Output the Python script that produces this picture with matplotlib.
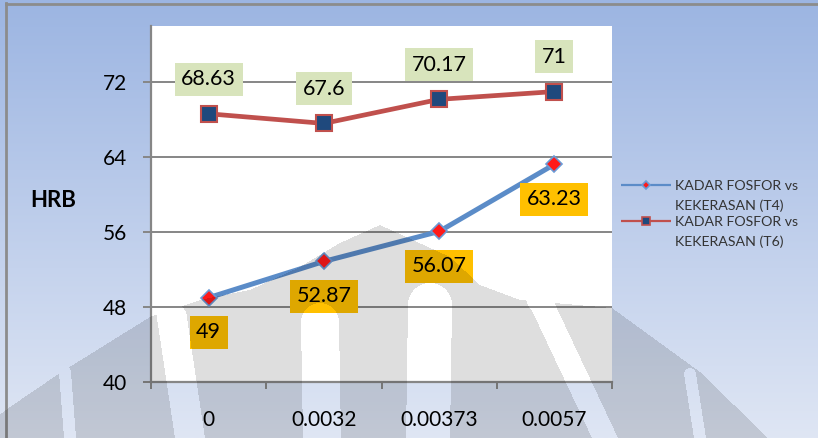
import numpy as np
import matplotlib
matplotlib.use("Agg")
import matplotlib.pyplot as plt

plt.rcParams['font.family'] = ['Lato', 'DejaVu Sans']

# ---- data ----
kadar_fosfor = ["0", "0.0032", "0.00373", "0.0057"]
hrb_t4 = [49, 52.87, 56.07, 63.23]
hrb_t6 = [68.63, 67.6, 70.17, 71]
label_t4 = "KADAR FOSFOR vs\nKEKERASAN (T4)"
label_t6 = "KADAR FOSFOR vs\nKEKERASAN (T6)"
y_ticks = [40, 48, 56, 64, 72]

W, H = 818, 438
fig = plt.figure(figsize=(W / 100, H / 100), dpi=100)

# ---- chart-area background: vertical blue gradient + frame ----
bg = fig.add_axes([0, 0, 1, 1], zorder=-5)
top = np.array([156, 181, 226]) / 255
bot = np.array([223, 230, 244]) / 255
t = np.linspace(0, 1, H)[:, None, None]
grad = top * (1 - t) + bot * t
grad = np.repeat(grad, 2, axis=1)
bg.imshow(grad, aspect='auto', extent=[0, W, H, 0], interpolation='bilinear')
bg.plot([6, 6], [3, H], color='#8c8c8c', lw=2)
bg.plot([6, W], [4, 4], color='#8c8c8c', lw=2)
bg.set_xlim(0, W)
bg.set_ylim(H, 0)
bg.axis('off')

# ---- plot area ----
ax = fig.add_axes([151 / W, (H - 382) / H, 461 / W, 356 / H])
ax.set_facecolor('white')
x = np.arange(len(kadar_fosfor))

line_t4 = '#5b8cc8'
line_t6 = '#c0504d'
mark_t4 = dict(marker='D', markerfacecolor='#ff1a1a', markeredgecolor='#6b9bd6')
mark_t6 = dict(marker='s', markerfacecolor='#1f497d', markeredgecolor='#c0504d')

ax.plot(x, hrb_t4, color=line_t4, lw=3.6, markersize=8.5, markeredgewidth=1.2,
        zorder=4, solid_capstyle='round', **mark_t4)
ax.plot(x, hrb_t6, color=line_t6, lw=3.4, markersize=11, markeredgewidth=1.5,
        zorder=4, **mark_t6)

for xi, v in zip(x, hrb_t6):
    ax.annotate(f"{v:g}", (xi, v), xytext=(0, 25), textcoords='offset points',
                ha='center', va='center', fontsize=15.5, color='black', zorder=5,
                bbox=dict(boxstyle='square,pad=0.3', fc='#d8e4bc', ec='none'))
for xi, v in zip(x, hrb_t4):
    ax.annotate(f"{v:g}", (xi, v), xytext=(0, -25), textcoords='offset points',
                ha='center', va='center', fontsize=15.5, color='black', zorder=5,
                bbox=dict(boxstyle='square,pad=0.3', fc='#ffc000', ec='none'))

ax.set_xlim(-0.5, len(kadar_fosfor) - 0.5)
ax.set_ylim(40, 78)
ax.set_yticks(y_ticks)
ax.yaxis.grid(True, color='#868686', lw=1.4)
ax.set_axisbelow(True)
ax.tick_params(axis='y', length=6, width=1.4, color='#868686', pad=11,
               labelsize=15, labelcolor='black')

# category ticks on boundaries, labels centred on categories
ax.set_xticks(np.arange(-0.5, len(kadar_fosfor)), labels=[])
ax.set_xticks(x, labels=kadar_fosfor, minor=True)
ax.tick_params(axis='x', which='major', length=5, width=1.4, color='#868686')
ax.tick_params(axis='x', which='minor', length=0, pad=20, labelsize=15,
               labelcolor='black')

for s in ['top', 'right']:
    ax.spines[s].set_visible(False)
for s in ['left', 'bottom']:
    ax.spines[s].set_color('#868686')
    ax.spines[s].set_linewidth(1.6)

ax.set_ylabel('HRB', rotation=0, fontsize=16, fontweight='bold',
              ha='center', va='center')
ax.yaxis.set_label_coords(-0.213, 0.51)

# ---- legend: key sample beside the first line of each two-line label ----
legend_rows = [(label_t4, line_t4, mark_t4, 184.5, 4.5),
               (label_t6, line_t6, mark_t6, 221, 6)]
for text, lc, mk, yk, ms in legend_rows:
    bg.plot([621, 671], [yk, yk], color=lc, lw=1.6, solid_capstyle='butt')
    bg.plot([646], [yk], linestyle='none', markersize=ms, markeredgewidth=1.2,
            **mk)
    for i, line in enumerate(text.split('\n')):
        bg.text(675, yk + 5 + i * 20.5, line, fontsize=10.2, color='#333333',
                ha='left', va='baseline')

# ---- faint watermark emblem over the lower part of the chart ----
ov = fig.add_axes([0, 0, 1, 1], zorder=10)
yy, xx = np.mgrid[0:H, 0:W] + 0.5
cx = 380
dl = np.clip(cx - xx, 0, None)
dr = np.clip(xx - cx, 0, None)
edge_l = np.interp(dl, [0, 40, 80, 130, 180, 230, 320, 370, 420],
                   [225, 243, 267, 290, 300, 317, 373, 407, 445])
edge_r = np.interp(dr, [0, 70, 100, 140, 232, 320, 388, 430],
                   [225, 257, 285, 300, 308, 372, 438, 470])
edge = np.where(xx < cx, edge_l, edge_r)
mask = (yy >= edge).astype(float)
gaps = [(65, 372, 70, 6), (172, 318, 190, 15), (320, 322, 322, 19),
        (430, 305, 428, 22), (540, 300, 605, 13), (690, 374, 700, 6)]
for xt, yt, xb, hw in gaps:
    tt = (yy - yt) / (H - yt)
    xc = xt + (xb - xt) * tt
    band = (np.abs(xx - xc) < hw) & (yy >= yt)
    cap = (xx - xt) ** 2 + (yy - yt) ** 2 < hw ** 2
    mask[band | cap] = 0
rgba = np.zeros((H, W, 4))
rgba[..., 3] = 0.13 * mask
ov.imshow(rgba, extent=[0, W, H, 0], aspect='auto', interpolation='bilinear')
ov.set_xlim(0, W)
ov.set_ylim(H, 0)
ov.axis('off')

fig.savefig('out.png', dpi=100)
